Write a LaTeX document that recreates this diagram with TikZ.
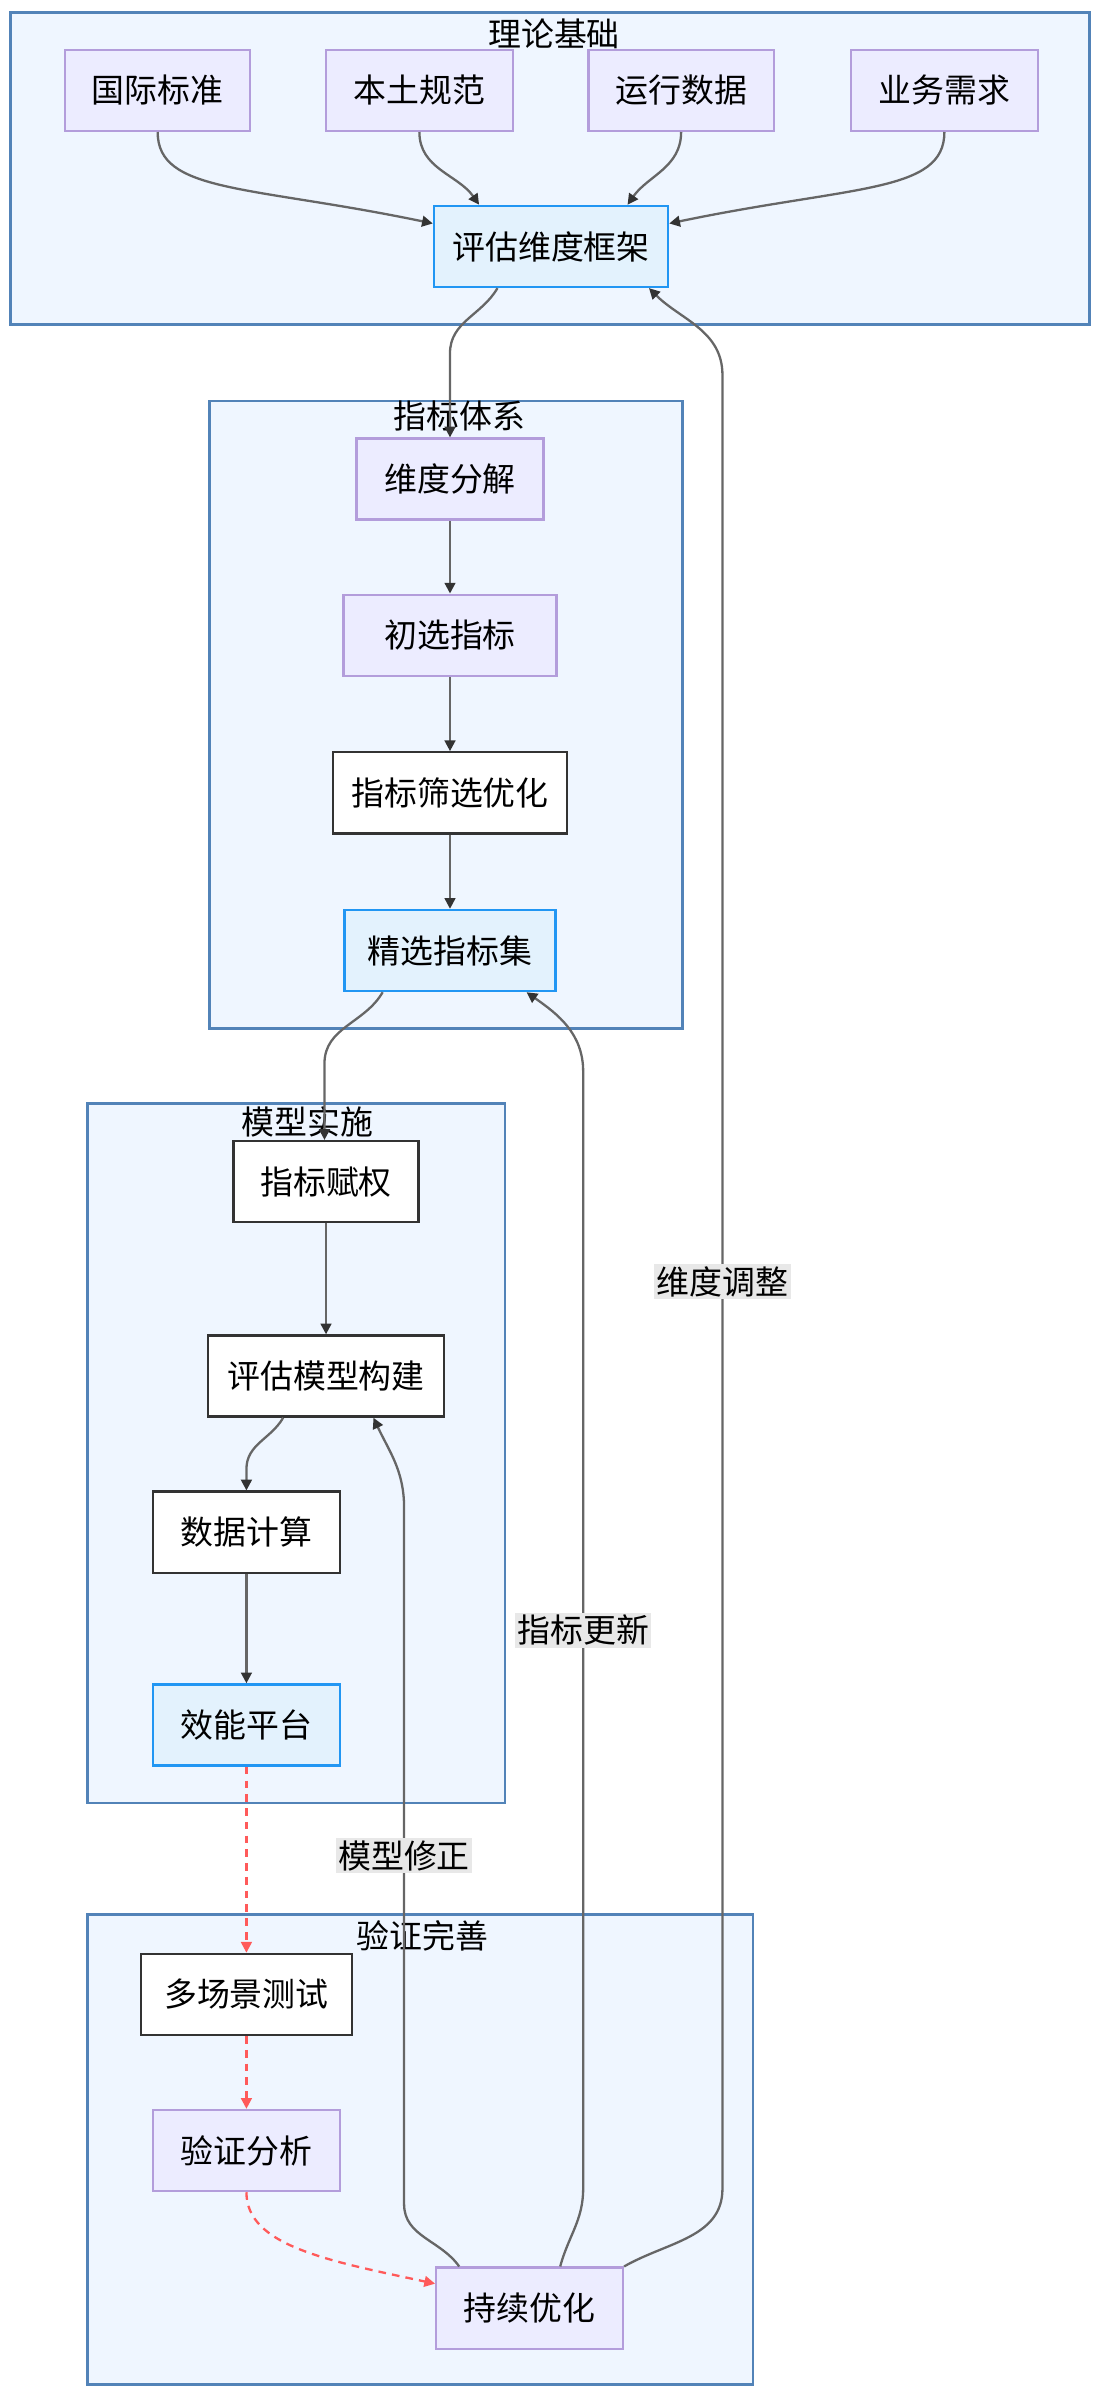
\documentclass[tikz,border=0pt]{standalone}
\usepackage{fontspec}
\newfontfamily\cjk{Noto Sans CJK SC}
\usetikzlibrary{arrows.meta}
\definecolor{clfill}{HTML}{EFF6FF}
\definecolor{clline}{HTML}{5283B8}
\definecolor{lilacfill}{HTML}{ECECFF}
\definecolor{lilacline}{HTML}{B39DDB}
\definecolor{bluefill}{HTML}{E3F2FD}
\definecolor{blueline}{HTML}{2196F3}
\definecolor{plainline}{HTML}{333333}
\definecolor{edgegray}{HTML}{666666}
\definecolor{tipdark}{HTML}{333333}
\definecolor{redline}{HTML}{FF5A5A}
\definecolor{lblgray}{HTML}{E8E8E8}
\begin{document}
\begin{tikzpicture}[x=1pt,y=1pt,
  txt/.style={font=\cjk\fontsize{21.5}{25}\selectfont, text=black},
  cluster/.style={draw=clline, fill=clfill, line width=1.8pt},
  ttl/.style={txt, inner sep=0pt},
  box/.style={txt, draw, line width=1.5pt, minimum height=53pt, inner sep=0pt},
  lilacbox/.style={box, draw=lilacline, fill=lilacfill},
  bluebox/.style={box, draw=blueline, fill=bluefill},
  plainbox/.style={box, draw=plainline, fill=white},
  edge/.style={draw=edgegray, line width=1.5pt, -{Triangle[length=7pt,width=7pt,color=tipdark]}},
  redge/.style={draw=redline, line width=1.5pt, dash pattern=on 5pt off 4pt, -{Triangle[length=7pt,width=7pt]}},
  lbl/.style={txt, fill=lblgray, inner sep=1.5pt}]
\useasboundingbox (0,0) rectangle (720,-1568);
% clusters
\draw[cluster] (7,-8) rectangle (712,-212);
\draw[cluster] (137,-262) rectangle (446,-672);
\draw[cluster] (57,-721) rectangle (330,-1178);
\draw[cluster] (57,-1251) rectangle (492,-1558);
\node[ttl] (t1) at (362,-22) {理论基础};
\node[ttl] (t2) at (300,-272) {指标体系};
\node[ttl] (t3) at (201,-733) {模型实施};
\node[ttl] (t4) at (276,-1265) {验证完善};
%
\node[lilacbox, minimum width=121] (std) at (103,-59) {国际标准};
\node[lilacbox, minimum width=122] (loc) at (274,-59) {本土规范};
\node[lilacbox, minimum width=121] (ops) at (445,-59) {运行数据};
\node[lilacbox, minimum width=122] (biz) at (617,-59) {业务需求};
\node[bluebox, minimum width=153] (frame) at (360,-161) {评估维度框架};
%
\node[lilacbox, minimum width=122] (dec) at (294,-313) {维度分解};
\node[lilacbox, minimum width=139] (pre) at (294,-415) {初选指标};
\node[plainbox, minimum width=153] (scr) at (294,-518) {指标筛选优化};
\node[bluebox, minimum width=138] (sel) at (294,-621) {精选指标集};
%
\node[plainbox, minimum width=121] (wt) at (213,-772) {指标赋权};
\node[plainbox, minimum width=154] (model) at (213,-899) {评估模型构建};
\node[plainbox, minimum width=122] (calc) at (161,-1001) {数据计算};
\node[bluebox, minimum width=122] (plat) at (161,-1127) {效能平台};
%
\node[plainbox, minimum width=138] (test) at (161,-1303) {多场景测试};
\node[lilacbox, minimum width=122] (ana) at (161,-1405) {验证分析};
\node[lilacbox, minimum width=122] (impr) at (346,-1508) {持续优化};
% forward flow
\draw[edge] (std.south) .. controls +(0,-40) and +(-120,25) .. ([yshift=15pt]frame.west);
\draw[edge] (loc.south) to[out=-90,in=125] ([xshift=-47pt]frame.north);
\draw[edge] (ops.south) to[out=-90,in=55] ([xshift=50pt]frame.north);
\draw[edge] (biz.south) .. controls +(0,-40) and +(120,25) .. ([yshift=15pt]frame.east);
\draw[edge] ([xshift=-35pt]frame.south) to[out=-120,in=90] ([yshift=55pt]dec.north) -- (dec.north);
\draw[edge] (dec) -- (pre);
\draw[edge] (pre) -- (scr);
\draw[edge] (scr) -- (sel);
\draw[edge] ([xshift=-44pt]sel.south) to[out=-120,in=90] ([xshift=-1pt,yshift=50pt]wt.north) -- ([xshift=-1pt]wt.north);
\draw[edge] (wt) -- (model);
\draw[edge] ([xshift=-28pt]model.south) to[out=-120,in=90] ([yshift=14pt]calc.north) -- (calc.north);
\draw[edge] (calc) -- (plat);
\draw[redge] (plat) -- (test);
\draw[redge] (test) -- (ana);
\draw[redge] (ana.south) .. controls +(0,-35) and +(-70,15) .. ([yshift=16pt]impr.west);
% feedback
\draw[edge] ([xshift=-46pt]impr.north) to[out=125,in=-90] (264,-1440) -- node[lbl] (fb1) {模型修正} (264,-985) to[out=90,in=-65] ([xshift=31pt]model.south);
\draw[edge] ([xshift=20pt]impr.north) to[out=75,in=-90] (381,-1430) -- node[lbl] (fb2) {指标更新} (381,-700) to[out=90,in=-35] ([xshift=50pt]sel.south);
\draw[edge] (impr.north east) to[out=30,in=-90] (472,-1430) -- node[lbl] (fb3) {维度调整} (472,-245) to[out=90,in=-45] ([xshift=64pt]frame.south);
\end{tikzpicture}
\end{document}
